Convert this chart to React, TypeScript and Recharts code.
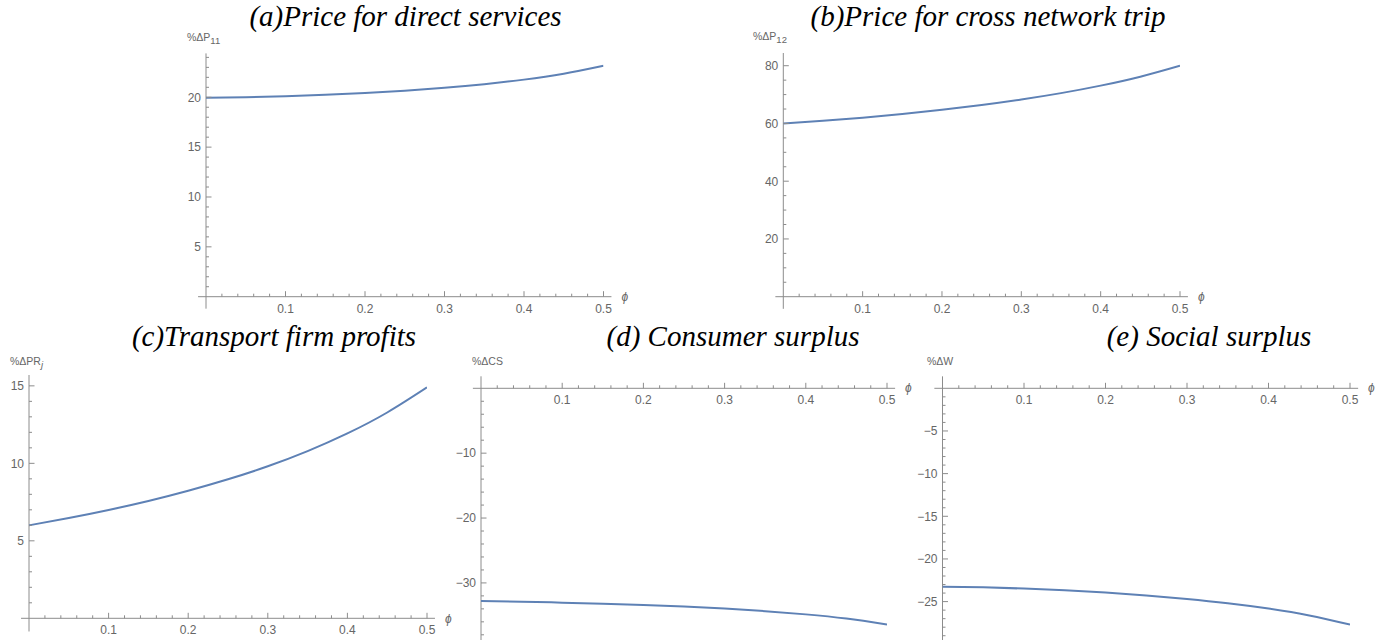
import React from 'react';
import { LineChart, Line, XAxis, YAxis, ReferenceLine } from 'recharts';

// ---------- data ----------
const phiValues = [0, 0.05, 0.1, 0.15, 0.2, 0.25, 0.3, 0.35, 0.4, 0.45, 0.5];
const priceDirect = [19.95, 20.01, 20.11, 20.25, 20.43, 20.66, 20.95, 21.31, 21.77, 22.37, 23.17];
const priceCross = [60.0, 60.9, 62.0, 63.3, 64.75, 66.4, 68.3, 70.5, 73.1, 76.2, 80.0];
const firmProfits = [6.0, 6.47, 6.99, 7.57, 8.23, 8.97, 9.81, 10.79, 11.93, 13.28, 14.9];
const consumerSurplus = [-32.8, -32.9, -33.04, -33.2, -33.4, -33.65, -33.96, -34.35, -34.85, -35.5, -36.4];
const socialSurplus = [-23.25, -23.33, -23.47, -23.67, -23.94, -24.28, -24.7, -25.2, -25.82, -26.62, -27.7];

// ---------- ticks ----------
const xTicks = [0.02, 0.04, 0.06, 0.08, 0.1, 0.12, 0.14, 0.16, 0.18, 0.2, 0.22, 0.24, 0.26, 0.28, 0.3, 0.32, 0.34, 0.36, 0.38, 0.4, 0.42, 0.44, 0.46, 0.48, 0.5];
const xTickLabels = [0.1, 0.2, 0.3, 0.4, 0.5];

const yTicksA = [1, 2, 3, 4, 5, 6, 7, 8, 9, 10, 11, 12, 13, 14, 15, 16, 17, 18, 19, 20, 21, 22, 23, 24];
const yLabelsA = [5, 10, 15, 20];
const yTicksB = [5, 10, 15, 20, 25, 30, 35, 40, 45, 50, 55, 60, 65, 70, 75, 80];
const yLabelsB = [20, 40, 60, 80];
const yTicksC = [1, 2, 3, 4, 5, 6, 7, 8, 9, 10, 11, 12, 13, 14, 15];
const yLabelsC = [5, 10, 15];
const yTicksD = [-2, -4, -6, -8, -10, -12, -14, -16, -18, -20, -22, -24, -26, -28, -30, -32, -34, -36, -38];
const yLabelsD = [-10, -20, -30];
const yTicksE = [-1, -2, -3, -4, -5, -6, -7, -8, -9, -10, -11, -12, -13, -14, -15, -16, -17, -18, -19, -20, -21, -22, -23, -24, -25, -26, -27, -28, -29];
const yLabelsE = [-5, -10, -15, -20, -25];

// ---------- style ----------
const AXIS = '#8c8c8c';
const TXT = '#666666';
const LINE = '#5E81B5';
const SANS = '"Liberation Sans", Arial, sans-serif';
const SERIF = '"Liberation Serif", "Times New Roman", serif';

const has = (arr: number[], v: number) => arr.some((a) => Math.abs(a - v) < 1e-9);
const fmtY = (v: number) => (v < 0 ? '\u2212' + Math.abs(v) : String(v));

type PanelProps = {
  left: number;
  top: number;
  width: number;
  height: number;
  margin: { top: number; right: number; bottom: number; left: number };
  values: number[];
  yDomain: [number, number];
  yTicks: number[];
  yLabels: number[];
  yAxisExtent: [number, number];
  xTop?: boolean;
};

function Panel(p: PanelProps) {
  const data = phiValues.map((x, i) => ({ phi: x, v: p.values[i] }));
  const XTick = (props: any) => {
    const { x, y, payload } = props;
    const v = payload.value;
    const major = has(xTickLabels, v);
    return (
      <g>
        <line x1={x} y1={y} x2={x} y2={y - (major ? 5.5 : 3)} stroke={AXIS} strokeWidth={1} />
        {major && (
          <text x={x} y={y + 16} textAnchor="middle" fill={TXT} fontSize={12} fontFamily={SANS}>
            {v.toFixed(1)}
          </text>
        )}
      </g>
    );
  };
  const YTick = (props: any) => {
    const { x, y, payload } = props;
    const v = payload.value;
    const major = has(p.yLabels, v);
    return (
      <g>
        <line x1={x} y1={y} x2={x + (major ? 5.5 : 3)} y2={y} stroke={AXIS} strokeWidth={1} />
        {major && (
          <text x={x - 5} y={y} dy="0.36em" textAnchor="end" fill={TXT} fontSize={12} fontFamily={SANS}>
            {fmtY(v)}
          </text>
        )}
      </g>
    );
  };
  // axes get a 1px box (zero-sized axes are not drawn); margins compensate
  const m = {
    top: p.xTop ? p.margin.top - 1 : p.margin.top,
    bottom: p.xTop ? p.margin.bottom : p.margin.bottom - 1,
    left: p.margin.left - 1,
    right: p.margin.right,
  };
  return (
    <div style={{ position: 'absolute', left: p.left, top: p.top, width: p.width, height: p.height }}>
      <LineChart width={p.width} height={p.height} data={data} margin={m}>
        <XAxis
          dataKey="phi"
          type="number"
          domain={[0, 0.5]}
          allowDataOverflow
          ticks={xTicks}
          interval={0}
          orientation={p.xTop ? 'top' : 'bottom'}
          height={1}
          axisLine={false}
          tickLine={false}
          tickSize={0}
          tickMargin={0}
          tick={XTick}
          label={{ value: '\u03D5', position: 'right', offset: 18, fill: TXT, fontSize: 12, fontFamily: SANS, fontStyle: 'italic' }}
        />
        <YAxis
          type="number"
          domain={p.yDomain}
          allowDataOverflow
          ticks={p.yTicks}
          interval={0}
          width={1}
          axisLine={false}
          tickLine={false}
          tickSize={0}
          tickMargin={0}
          tick={YTick}
        />
        <ReferenceLine
          segment={[{ x: -0.01, y: 0 }, { x: 0.51, y: 0 }]}
          stroke={AXIS}
          strokeWidth={1}
          ifOverflow="visible"
        />
        <ReferenceLine
          segment={[{ x: 0, y: p.yAxisExtent[0] }, { x: 0, y: p.yAxisExtent[1] }]}
          stroke={AXIS}
          strokeWidth={1}
          ifOverflow="visible"
        />
        <Line type="natural" dataKey="v" stroke={LINE} strokeWidth={2} dot={false} isAnimationActive={false} />
      </LineChart>
    </div>
  );
}

export default function App() {
  return (
    <div style={{ position: 'absolute', left: 0, top: 0, width: 1394, height: 640, background: '#fff', overflow: 'hidden' }}>
      <Panel
        left={150} top={30} width={490} height={290}
        margin={{ left: 56, right: 36.5, top: 23.4, bottom: 23.3 }}
        values={priceDirect}
        yDomain={[0, 24.4]}
        yTicks={yTicksA}
        yLabels={yLabelsA}
        yAxisExtent={[-1.2, 24.4]}
      />
      <Panel
        left={730} top={30} width={490} height={290}
        margin={{ left: 53.3, right: 40, top: 23, bottom: 23.3 }}
        values={priceCross}
        yDomain={[0, 84.4]}
        yTicks={yTicksB}
        yLabels={yLabelsB}
        yAxisExtent={[-4.2, 84.4]}
      />
      <Panel
        left={0} top={340} width={470} height={300}
        margin={{ left: 29, right: 43, top: 35, bottom: 21.7 }}
        values={firmProfits}
        yDomain={[0, 15.7]}
        yTicks={yTicksC}
        yLabels={yLabelsC}
        yAxisExtent={[-0.85, 15.7]}
      />
      <Panel
        left={440} top={340} width={485} height={300}
        margin={{ left: 41, right: 38, top: 48.3, bottom: 0 }}
        values={consumerSurplus}
        yDomain={[-38.8, 0]}
        yTicks={yTicksD}
        yLabels={yLabelsD}
        yAxisExtent={[-38.8, 1.85]}
        xTop
      />
      <Panel
        left={910} top={340} width={484} height={300}
        margin={{ left: 32.5, right: 44, top: 48.3, bottom: 0 }}
        values={socialSurplus}
        yDomain={[-29.5, 0]}
        yTicks={yTicksE}
        yLabels={yLabelsE}
        yAxisExtent={[-29.5, 1.4]}
        xTop
      />
      <svg width={1394} height={640} style={{ position: 'absolute', left: 0, top: 0, pointerEvents: 'none' }}>
        <g fontFamily={SERIF} fontStyle="italic" fontSize={29} fill="#000" textAnchor="middle">
          <text x={405.5} y={25.5}>(a)Price for direct services</text>
          <text x={988} y={25.5}>(b)Price for cross network trip</text>
          <text x={274} y={346}>(c)Transport firm profits</text>
          <text x={733} y={346}>(d) Consumer surplus</text>
          <text x={1209} y={346}>(e) Social surplus</text>
        </g>
        <g fontFamily={SANS} fontSize={10.5} fill={TXT}>
          <text x={187} y={41}>%ΔP<tspan dy={2.5} fontSize={9.5}>11</tspan></text>
          <text x={753} y={40}>%ΔP<tspan dy={2.5} fontSize={9.5}>12</tspan></text>
          <text x={10} y={365}>%ΔPR<tspan dy={2.5} fontSize={9.5} fontStyle="italic">j</tspan></text>
          <text x={472} y={365}>%ΔCS</text>
          <text x={927} y={365}>%ΔW</text>
        </g>
      </svg>
    </div>
  );
}
